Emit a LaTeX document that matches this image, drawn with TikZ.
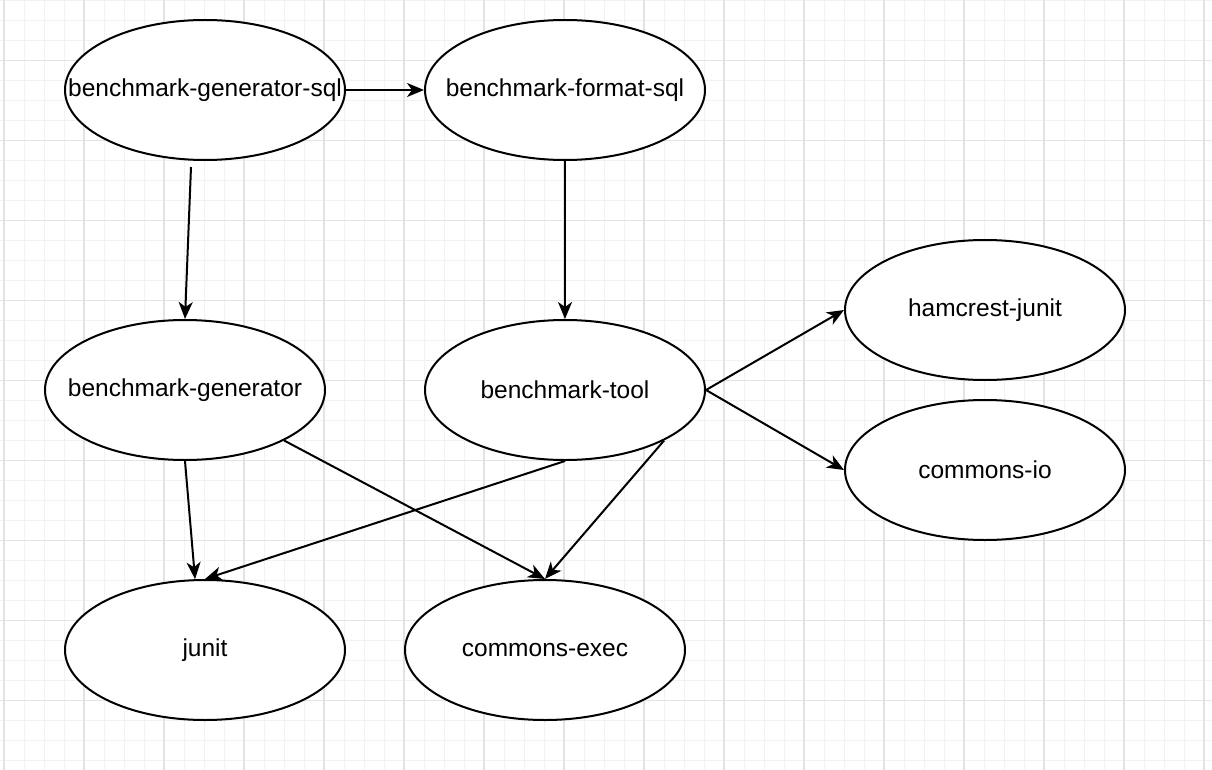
\documentclass[tikz,border=0pt]{standalone}
\usepackage{fontspec}
\setmainfont{Liberation Sans}
\usetikzlibrary{shapes.geometric,arrows.meta,calc}
\newcommand{\pkgtext}[1]{\makebox[0pt][c]{#1}}
\tikzset{
  pkg/.style={ellipse, draw=black, line width=2pt, fill=white, minimum width=280pt, minimum height=140pt, inner sep=0pt, font=\fontsize{24.5}{28}\selectfont},
  dep/.style={draw=black, line width=2pt, -{Stealth[length=17pt,width=14pt,inset=5pt]}},
  minorgrid/.style={draw=black!5, line width=1pt},
  majorgrid/.style={draw=black!11, line width=1.2pt}
}
\begin{document}
\begin{tikzpicture}[x=1pt,y=-1pt]
\useasboundingbox (0,0) rectangle (1212,770);
\fill[white] (0,0) rectangle (1212,770);
% grid
\foreach \x in {4,24,...,1212} \draw[minorgrid] (\x,0) -- (\x,770);
\foreach \y in {0.7,20.7,...,770} \draw[minorgrid] (0,\y) -- (1212,\y);
\foreach \x in {4,84,...,1212} \draw[majorgrid] (\x,0) -- (\x,770);
\foreach \y in {60.7,140.7,...,770} \draw[majorgrid] (0,\y) -- (1212,\y);
% nodes
\node[pkg] (gsql) at (205,90) {\pkgtext{benchmark-generator-sql}};
\node[pkg] (fsql) at (565,90) {\pkgtext{benchmark-format-sql}};
\node[pkg] (gen) at (185,390) {\pkgtext{benchmark-generator}};
\node[pkg] (tool) at (565,390) {\pkgtext{benchmark-tool}};
\node[pkg] (ham) at (985,310) {\pkgtext{hamcrest-junit}};
\node[pkg] (cio) at (985,470) {\pkgtext{commons-io}};
\node[pkg] (junit) at (205,650) {\pkgtext{junit}};
\node[pkg] (cexec) at (545,650) {\pkgtext{commons-exec}};
% connectors
\draw[dep] (gsql.east) -- (fsql.west);
\draw[dep] ($(gsql.south)+(-14,6)$) -- (gen.north);
\draw[dep] (fsql.south) -- (tool.north);
\draw[dep] (tool.east) -- (ham.west);
\draw[dep] (tool.east) -- (cio.west);
\draw[dep] (gen.south) -- (junit.98);
\draw[dep] (gen.-27) -- (cexec.north);
\draw[dep] (tool.south) -- (junit.north);
\draw[dep] (tool.-27) -- (cexec.north);
\end{tikzpicture}
\end{document}
